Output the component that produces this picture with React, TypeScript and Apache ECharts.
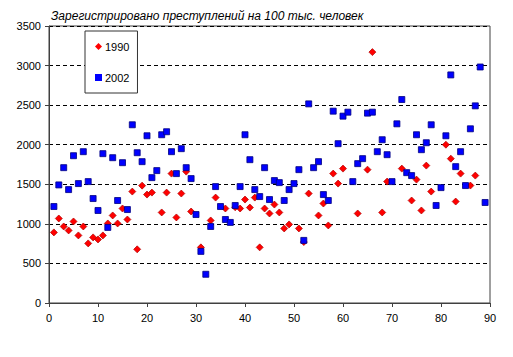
import React, { useEffect, useRef } from "react";
import * as echarts from "echarts";

const titleText = "Зарегистрировано преступлений на 100 тыс. человек";
const seriesNames = ["1990", "2002"];
const xTicks = { min: 0, max: 90, interval: 10 };
const yTicks = { min: 0, max: 3500, interval: 500 };

// 1990: region index and value (only visible points)
const regions1990 = [
  1, 2, 3, 4, 5, 6, 7, 8, 9, 10, 11, 12, 13, 14, 15, 16, 17, 18, 19, 20, 21,
  23, 24, 25, 26, 27, 28, 29, 31, 33, 34, 36, 38, 39, 40, 41, 42, 43, 44, 45,
  46, 47, 48, 49, 51, 52, 53, 55, 56, 57, 58, 59, 60, 63, 65, 66, 68, 69, 72,
  74, 75, 76, 77, 78, 81, 82, 83, 84, 86, 87,
];
const values1990 = [
  892, 1068, 967, 917, 1030, 854, 967, 753, 829, 803, 854, 1005, 1106, 1005,
  1194, 1055, 1408, 678, 1483, 1370, 1395, 1144, 1395, 1635, 1081, 1383, 1660,
  1156, 703, 1043, 1332, 1194, 1210, 1194, 1307, 1206, 1332, 703, 1194, 1131,
  1244, 1144, 942, 993, 942, 770, 1383, 1106, 1257, 980, 1635, 1509, 1698,
  1131, 1685, 3170, 1144, 1534, 1698, 1295, 1559, 1169, 1736, 1408, 2000, 1824,
  1282, 1635, 1484, 1610,
];

// 2002: regions 1..89
const values2002 = [
  1219, 1492, 1710, 1433, 1861, 1509, 1912, 1534, 1320, 1169, 1887, 955, 1836,
  1295, 1773, 1181, 2252, 1899, 1786, 2113, 1584, 1673, 2126, 2164, 1912, 1635,
  1950, 1710, 1572, 1118, 652, 363, 967, 1471, 1219, 1055, 1018, 1232, 1471,
  2126, 1811, 1433, 1345, 1710, 1307, 1547, 1521, 1295, 1433, 1509, 1685, 791,
  2516, 1710, 1786, 1370, 1295, 2424, 2013, 2361, 2411, 1534, 1761, 1824, 2399,
  2411, 1912, 2063, 1874, 1534, 2264, 2571, 1647, 1610, 2126, 1937, 2025, 2252,
  1232, 1458, 2113, 2882, 1723, 1912, 1484, 2201, 2491, 2982, 1270,
];

const FONT = "'Liberation Sans', Arial, sans-serif";

export default function App() {
  const ref = useRef<HTMLDivElement>(null);
  useEffect(() => {
    if (!ref.current) return;
    const chart = echarts.init(ref.current, null, { renderer: "svg" });
    const data1990 = regions1990.map((r, i) => [r, values1990[i]]);
    const data2002 = values2002.map((v, i) => [i + 1, v]);
    chart.setOption({
      animation: false,
      backgroundColor: "#ffffff",
      textStyle: { fontFamily: FONT },
      title: {
        text: titleText,
        left: 46,
        top: 5,
        textStyle: {
          fontFamily: FONT,
          fontSize: 12,
          fontStyle: "italic",
          fontWeight: "normal",
          color: "#000",
        },
      },
      legend: {
        orient: "vertical",
        left: 85,
        top: 31,
        padding: [10, 8, 10, 10],
        itemGap: 20,
        itemWidth: 7,
        itemHeight: 7,
        itemStyle: { borderWidth: 0 },
        borderColor: "#333",
        borderWidth: 1,
        backgroundColor: "#fff",
        textStyle: { fontFamily: FONT, fontSize: 11, color: "#000", padding: [0, 0, 0, -2] },
        data: [
          { name: seriesNames[0], icon: "diamond" },
          { name: seriesNames[1], icon: "rect" },
        ],
      },
      grid: {
        left: 49,
        right: 23,
        top: 26,
        bottom: 54,
        show: true,
        borderColor: "#404040",
        borderWidth: 1,
        backgroundColor: "transparent",
      },
      xAxis: {
        type: "value",
        min: xTicks.min,
        max: xTicks.max,
        interval: xTicks.interval,
        axisLine: { show: true, lineStyle: { color: "#404040", width: 1 } },
        axisTick: { show: true, length: 4, lineStyle: { color: "#404040" } },
        axisLabel: { fontFamily: FONT, fontSize: 11, color: "#000", margin: 9 },
        splitLine: { show: false },
      },
      yAxis: {
        type: "value",
        min: yTicks.min,
        max: yTicks.max,
        interval: yTicks.interval,
        axisLine: { show: true, lineStyle: { color: "#404040", width: 1 } },
        axisTick: { show: true, length: 4, lineStyle: { color: "#404040" } },
        axisLabel: {
          fontFamily: FONT,
          fontSize: 11,
          color: "#000",
          margin: 8,
          formatter: (v: number) => String(v),
        },
        splitLine: {
          show: true,
          lineStyle: { color: "#000", type: [4, 3], width: 1 },
        },
      },
      series: [
        {
          name: seriesNames[0],
          type: "scatter",
          symbol: "diamond",
          symbolSize: 7,
          data: data1990,
          itemStyle: { color: "#ff0000", borderColor: "#b00000", borderWidth: 0.7, opacity: 1 },
          z: 2,
        },
        {
          name: seriesNames[1],
          type: "scatter",
          symbol: "rect",
          symbolSize: 6,
          data: data2002,
          itemStyle: { color: "#0000ff", borderColor: "#000080", borderWidth: 0.8, opacity: 1 },
          z: 3,
        },
      ],
    });
    return () => chart.dispose();
  }, []);
  return <div ref={ref} style={{ width: 513, height: 357, position: "absolute", left: 0, top: 0 }} />;
}
